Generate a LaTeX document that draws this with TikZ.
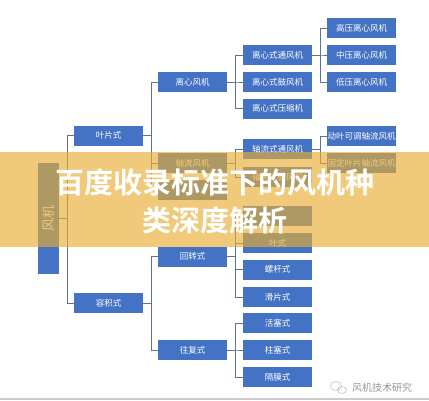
\documentclass[tikz,border=0pt]{standalone}
\usepackage{fontspec}
\setmainfont{Noto Sans CJK SC}
\newfontfamily\titlefont{Noto Sans CJK SC}[BoldFont={Noto Sans CJK SC Bold}]
\definecolor{boxblue}{RGB}{68,114,196}
\definecolor{linkgray}{RGB}{95,115,145}
\definecolor{bannerorange}{RGB}{232,174,51}
\definecolor{markgray}{RGB}{150,150,150}
\begin{document}
\begin{tikzpicture}[x = 1pt, y = -1pt,
		box/.style = {fill = boxblue, text = white, inner sep = 0pt, minimum width = 69pt, minimum height = 20pt, font = \fontsize{8.5}{10}\selectfont},
		link/.style = {linkgray, line width = 0.8pt},
		elbow/.style = {to path = {-- ++(8,0) |- (\tikztotarget)}}]
		\useasboundingbox (0,0) rectangle (429,400);
		\fill[white] (0,0) rectangle (429,400);
		% root and first level
		\node[box, minimum width = 21pt, minimum height = 111pt, font = \fontsize{13}{15}\selectfont] (fengji) at (48.5,218.5) {\rotatebox{90}{风机}};
		\node[box] (yepian) at (108.5,135.5) {叶片式};
		\node[box] (rongji) at (108.5,303) {容积式};
		% second level
		\node[box] (lixin) at (192.5,82) {离心风机};
		\node[box] (zhouliu) at (192.5,163) {轴流风机};
		\node[box] (hunliu) at (192.5,190) {};
		\node[box] (huizhuan) at (192.5,256.5) {回转式};
		\node[box] (wangfu) at (192.5,350) {往复式};
		% third level
		\node[box] (lxtf) at (277.5,55) {离心式通风机};
		\node[box] (lxgf) at (277.5,82) {离心式鼓风机};
		\node[box] (lxys) at (277.5,108.5) {离心式压缩机};
		\node[box] (zltf) at (277.5,149) {轴流式通风机};
		\node[box] (zlgf) at (277.5,177) {轴流式鼓风机};
		\node[box] (hzone) at (277.5,216) {};
		\node[box] (yeshi) at (277.5,243) {叶式};
		\node[box] (luogan) at (277.5,269.5) {螺杆式};
		\node[box] (huapian) at (277.5,297) {滑片式};
		\node[box] (huosai) at (277.5,323) {活塞式};
		\node[box] (zhusai) at (277.5,350) {柱塞式};
		\node[box] (gemo) at (277.5,377) {隔膜式};
		% fourth level
		\node[box] (gaoya) at (361.5,28) {高压离心风机};
		\node[box] (zhongya) at (361.5,55) {中压离心风机};
		\node[box] (diya) at (361.5,82) {低压离心风机};
		\node[box] (dongye) at (361.5,136) {动叶可调轴流风机};
		\node[box] (guding) at (361.5,163) {固定叶片轴流风机};
		\foreach \a/\b in {fengji/yepian, fengji/rongji, yepian/lixin, yepian/zhouliu, yepian/hunliu,
				rongji/huizhuan, rongji/wangfu, lixin/lxtf, lixin/lxgf, lixin/lxys, zhouliu/zltf, zhouliu/zlgf,
				huizhuan/hzone, huizhuan/yeshi, huizhuan/luogan, huizhuan/huapian,
				wangfu/huosai, wangfu/zhusai, wangfu/gemo, lxtf/gaoya, lxtf/zhongya, lxtf/diya, zltf/dongye, zltf/guding}
			\draw[link] (\a.east) to[elbow] (\b.west);
		% watermark
		\draw[markgray!60, line width = 0.6pt] (336,386) ellipse (5.5pt and 4.5pt);
		\draw[markgray!60, line width = 0.6pt] (342,390) ellipse (4.5pt and 3.5pt);
		\node[text = markgray, font = \fontsize{10}{12}\selectfont, anchor = west, inner sep = 0pt] (mark) at (352,388) {风机技术研究};
		\draw[gray!40, line width = 1.5pt] (0,399.2) -- (429,399.2);
		% banner
		\fill[bannerorange, opacity = 0.65] (0,152) rectangle (429,247);
		\node[text = white, align = center, font = \titlefont\bfseries\fontsize{29}{38}\selectfont] (title) at (215,201) {百度收录标准下的风机种\\类深度解析};
	\end{tikzpicture}
\end{document}
